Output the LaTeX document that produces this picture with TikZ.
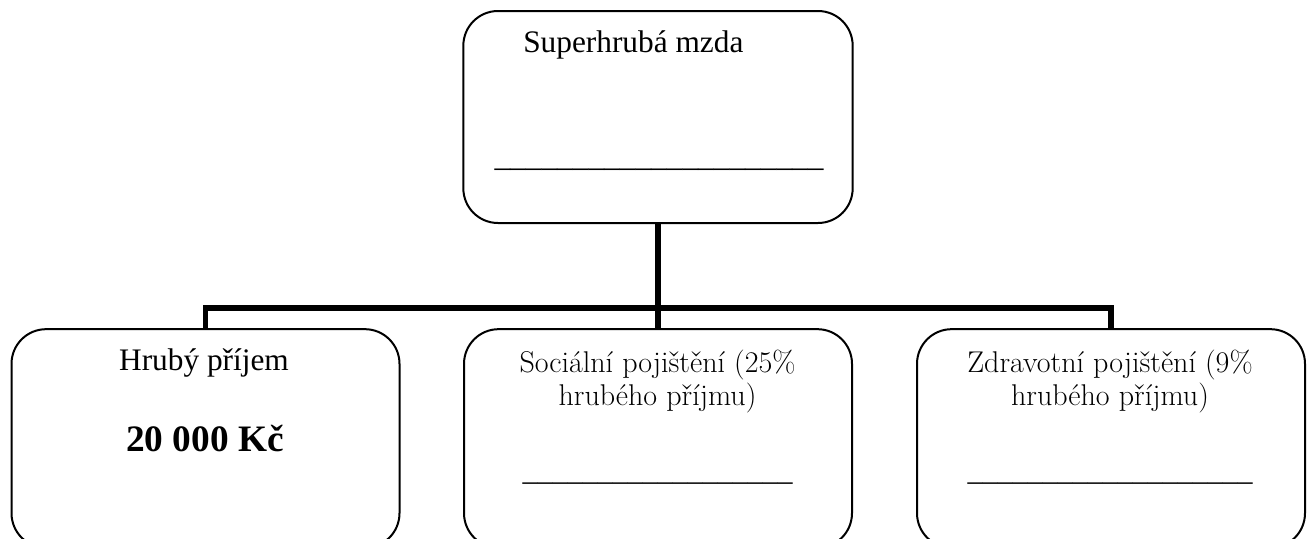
\documentclass[tikz,border=0pt]{standalone}
\usepackage{fontspec}
\newfontfamily\timesfont{Liberation Serif}
\usepackage{tikz}

\begin{document}
\begin{tikzpicture}[x=0.75pt,y=-0.75pt,
  box/.style={draw,line width=1.5pt,rounded corners=26pt,minimum width=291pt,inner sep=0pt},
  conn/.style={line width=3.8pt,line join=miter},
  lbl/.style={inner sep=0pt,font=\fontsize{22.5}{24.75}\selectfont,align=center},
  blank/.style={inner sep=0pt,font=\timesfont\fontsize{22.5}{24.75}\selectfont}]
\useasboundingbox (0,0) rectangle (1307,539);
\clip (0,0) rectangle (1307,539);
% boxes
\node[box,minimum width=292pt,minimum height=159pt] (sup) at (658,117) {};
\node[box,minimum height=164pt] (hp) at (205.5,438.5) {};
\node[box,minimum height=164pt] (sp) at (658,438.5) {};
\node[box,minimum height=164pt] (zp) at (1111,438.5) {};
% connectors
\coordinate (bus) at (658,308);
\draw[conn] (sup.south)--(bus);
\draw[conn] (hp.north)--(hp.north|-bus)--(zp.north|-bus)--(zp.north);
\draw[conn] (bus)--(sp.north);
% texts
\node[lbl,anchor=base west,font=\timesfont\fontsize{23.5}{26}\selectfont] (supt) at (523,52) {Superhrubá mzda};
\node[lbl,anchor=base,font=\timesfont\fontsize{23.5}{26}\selectfont] (supl) at (659,166) {\_\_\_\_\_\_\_\_\_\_\_\_\_\_\_\_\_\_\_\_\_};
\node[lbl,anchor=base,font=\timesfont\fontsize{23.5}{26}\selectfont] (hpt) at (204,370) {Hrubý příjem};
\node[lbl,anchor=base,font=\timesfont\bfseries\fontsize{28}{30}\selectfont] (hpv) at (205,451) {20 000 Kč};
\node[lbl,anchor=base] (spt) at (657.5,405) {Sociální pojištění (25\%\\hrubého příjmu)};
\node[blank,anchor=base] (spl) at (657.5,480) {\_\_\_\_\_\_\_\_\_\_\_\_\_\_\_\_\_\_};
\node[lbl,anchor=base] (zpt) at (1110,405) {Zdravotní pojištění (9\%\\hrubého příjmu)};
\node[blank,anchor=base] (zpl) at (1110,480) {\_\_\_\_\_\_\_\_\_\_\_\_\_\_\_\_\_\_\_};
\end{tikzpicture}
\end{document}
